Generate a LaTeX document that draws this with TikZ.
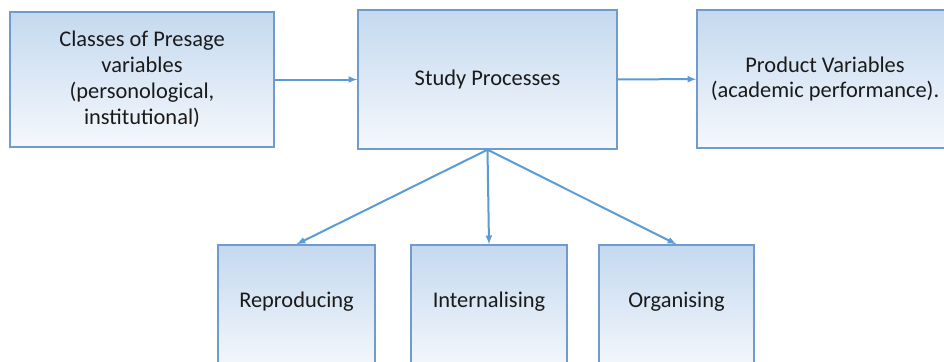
\documentclass[tikz,border=0pt]{standalone}
\usepackage{fontspec}
\setmainfont{Carlito}
\definecolor{boxline}{HTML}{6F9BCD}
\definecolor{boxtop}{HTML}{C4D9EF}
\definecolor{boxbot}{HTML}{F5F8FC}
\definecolor{arrowcol}{HTML}{5B9BD5}
\definecolor{txtcol}{HTML}{1A1A1A}
\tikzset{
  stagebox/.style={draw=boxline, line width=1.4bp, top color=boxtop, bottom color=boxbot,
    text=txtcol, align=center, inner sep=0pt, font=\fontsize{22.5}{26}\selectfont},
  flow/.style={->, draw=arrowcol, line width=2bp}
}
\begin{document}
\begin{tikzpicture}[>=latex, x=1bp, y=-1bp]
\useasboundingbox (0,0) rectangle (944,361);
% top row
\node[stagebox, minimum width=264bp, minimum height=135bp] (presage) at (142,79.5) {Classes of Presage\\variables\\(personological,\\institutional)};
\node[stagebox, minimum width=259bp, minimum height=139bp] (study) at (487.5,79.5) {Study Processes};
\node[stagebox, minimum width=256bp, minimum height=138bp] (product) at (825,79) {Product Variables\\(academic performance).};
% bottom row, cut off by the page
\node[stagebox, minimum width=157bp, minimum height=125bp, text depth=15bp] (repro) at (296.5,307.5) {Reproducing};
\node[stagebox, minimum width=156bp, minimum height=125bp, text depth=15bp] (intern) at (489,307.5) {Internalising};
\node[stagebox, minimum width=155bp, minimum height=125bp, text depth=15bp] (organ) at (676.5,307.5) {Organising};

\draw[flow] (presage) -- (study);
\draw[flow] (study) -- (product);
\draw[flow] (study.south) -- (repro.north);
\draw[flow] (study.south) -- (intern.north);
\draw[flow] (study.south) -- (organ.north);
\end{tikzpicture}
\end{document}
